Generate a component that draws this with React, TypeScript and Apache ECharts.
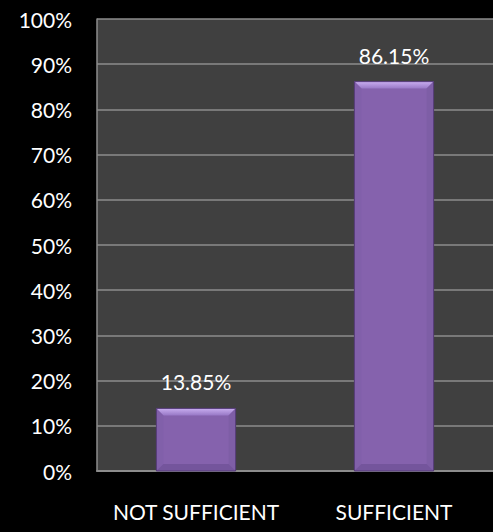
import React, { useEffect, useRef } from "react";
import * as echarts from "echarts";

const categories = ["NOT SUFFICIENT", "SUFFICIENT"];
const values = [13.85, 86.15];
const valueLabels = ["13.85%", "86.15%"];

export default function App() {
  const ref = useRef<HTMLDivElement>(null);
  useEffect(() => {
    if (!ref.current) return;
    const chart = echarts.init(ref.current, null, { renderer: "svg" });
    const font = "Lato, 'Open Sans', sans-serif";
    chart.setOption({
      animation: false,
      backgroundColor: "#000000",
      grid: {
        left: 97,
        right: -2,
        top: 19,
        bottom: 61,
        show: true,
        backgroundColor: "#404040",
        borderWidth: 0,
      },
      xAxis: {
        type: "category",
        data: categories,
        axisTick: { show: false },
        axisLine: { show: true, lineStyle: { color: "#8c8c8c", width: 2 } },
        axisLabel: { color: "#ffffff", fontSize: 21, fontFamily: font, margin: 30, interval: 0 },
      },
      yAxis: {
        type: "value",
        min: 0,
        max: 100,
        interval: 10,
        axisLine: { show: true, lineStyle: { color: "#8c8c8c", width: 1.5 } },
        axisTick: { show: false },
        splitLine: { show: true, lineStyle: { color: "#8c8c8c", width: 1.5 } },
        axisLabel: {
          color: "#ffffff",
          fontSize: 21,
          fontFamily: font,
          margin: 25,
          formatter: "{value}%",
        },
      },
      series: [
        {
          type: "bar",
          data: values,
          barWidth: "40%",
          itemStyle: { color: "#8562ad", borderColor: "#5f4585", borderWidth: 1 },
          label: {
            show: true,
            position: "top",
            distance: 16,
            color: "#ffffff",
            fontSize: 21,
            fontFamily: font,
            formatter: (p: any) => valueLabels[p.dataIndex],
          },
          z: 2,
        },
        {
          type: "custom",
          data: values.map((v, i) => [i, v]),
          z: 3,
          silent: true,
          renderItem: (params: any, api: any) => {
            const i = api.value(0);
            const v = api.value(1);
            const top = api.coord([i, v]);
            const base = api.coord([i, 0]);
            const w = api.size([1, 0])[0] * 0.4;
            const x0 = top[0] - w / 2;
            const x1 = top[0] + w / 2;
            const y0 = top[1];
            const y1 = base[1];
            const b = 7;
            return {
              type: "group",
              children: [
                {
                  type: "polygon",
                  shape: { points: [[x0, y0], [x1, y0], [x1 - b, y0 + b], [x0 + b, y0 + b]] },
                  style: {
                    fill: new echarts.graphic.LinearGradient(0, 0, 0, 1, [
                      { offset: 0, color: "#c9aef0" },
                      { offset: 1, color: "#9878c6" },
                    ]),
                  },
                },
                {
                  type: "polygon",
                  shape: { points: [[x0, y0], [x0 + b, y0 + b], [x0 + b, y1 - b], [x0, y1]] },
                  style: { fill: "#8160aa" },
                },
                {
                  type: "polygon",
                  shape: { points: [[x1, y0], [x1 - b, y0 + b], [x1 - b, y1 - b], [x1, y1]] },
                  style: { fill: "#7e5ea6" },
                },
                {
                  type: "polygon",
                  shape: { points: [[x0, y1], [x0 + b, y1 - b], [x1 - b, y1 - b], [x1, y1]] },
                  style: { fill: "#74559c" },
                },
                {
                  type: "rect",
                  shape: { x: x0, y: y0, width: w, height: y1 - y0 },
                  style: { fill: "none", stroke: "#553c78", lineWidth: 1 },
                },
              ],
            };
          },
        },
      ],
    });
    return () => chart.dispose();
  }, []);
  return (
    <div
      ref={ref}
      style={{ position: "fixed", left: 0, top: 0, width: 493, height: 532, background: "#000" }}
    />
  );
}
